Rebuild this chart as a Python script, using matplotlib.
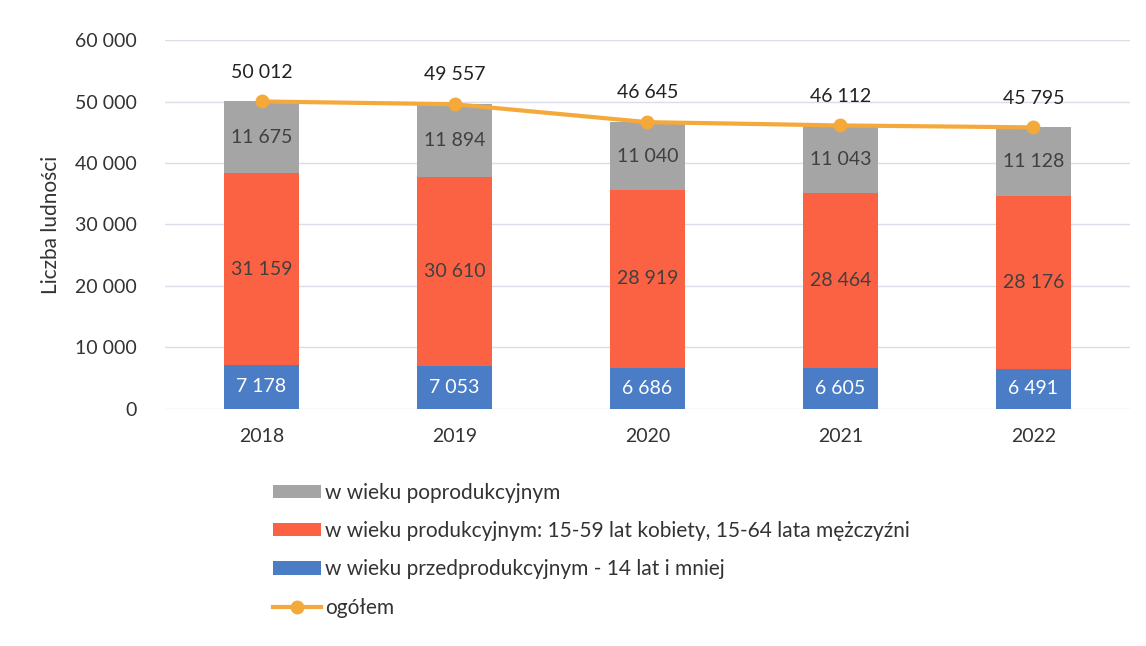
import numpy as np
import matplotlib.pyplot as plt
from matplotlib.ticker import FuncFormatter

plt.rcParams['font.family'] = ['Lato', 'DejaVu Sans']

years = ['2018', '2019', '2020', '2021', '2022']
przed = [7178, 7053, 6686, 6605, 6491]
prod = [31159, 30610, 28919, 28464, 28176]
popr = [11675, 11894, 11040, 11043, 11128]
total = [50012, 49557, 46645, 46112, 45795]

lab_popr = 'w wieku poprodukcyjnym'
lab_prod = 'w wieku produkcyjnym: 15-59 lat kobiety, 15-64 lata mężczyźni'
lab_przed = 'w wieku przedprodukcyjnym - 14 lat i mniej'
lab_total = 'ogółem'

c_grey = '#a5a5a5'
c_red = '#fb6243'
c_blue = '#4a7dc6'
c_line = '#f5a93b'


def fmt(v):
    return f'{int(v):,}'.replace(',', ' ')


fig = plt.figure(figsize=(11.46, 6.46), dpi=100)
ax = fig.add_axes([0.144, 0.367, 0.842, 0.571])

x = np.arange(len(years))
w = 0.39
b1 = ax.bar(x, przed, w, color=c_blue, label=lab_przed, zorder=2)
b2 = ax.bar(x, prod, w, bottom=przed, color=c_red, label=lab_prod, zorder=2)
bottom3 = np.array(przed) + np.array(prod)
b3 = ax.bar(x, popr, w, bottom=bottom3, color=c_grey, label=lab_popr, zorder=2)
ln, = ax.plot(x, total, color=c_line, lw=3, marker='o', ms=9, label=lab_total, zorder=3)

for i in range(len(years)):
    ax.text(x[i], przed[i] / 2, fmt(przed[i]), ha='center', va='center',
            color='white', fontsize=14, zorder=4)
    ax.text(x[i], przed[i] + prod[i] / 2, fmt(prod[i]), ha='center', va='center',
            color='#404040', fontsize=14, zorder=4)
    ax.text(x[i], bottom3[i] + popr[i] / 2, fmt(popr[i]), ha='center', va='center',
            color='#404040', fontsize=14, zorder=4)
    ax.annotate(fmt(total[i]), (x[i], total[i]), xytext=(0, 15), textcoords='offset points',
                ha='center', va='bottom', fontsize=14, color='#222222', zorder=4)

ax.set_xlim(-0.5, len(years) - 0.5)
ax.set_ylim(0, 60000)
ax.set_yticks(np.arange(0, 60001, 10000))
ax.yaxis.set_major_formatter(FuncFormatter(lambda v, p: fmt(v)))
ax.set_xticks(x)
ax.set_xticklabels(years)
ax.tick_params(axis='both', length=0, labelsize=14, colors='#333333')
ax.tick_params(axis='x', pad=14)
ax.tick_params(axis='y', pad=20)
ax.grid(axis='y', color='#dcdce8', lw=1, zorder=0)
for s in ax.spines.values():
    s.set_visible(False)
ax.set_ylabel('Liczba ludności', fontsize=15, color='#333333', labelpad=10)

leg = fig.legend([b3, b2, b1, ln], [lab_popr, lab_prod, lab_przed, lab_total],
                 loc='upper left', bbox_to_anchor=(0.222, 0.282), frameon=False,
                 fontsize=15, labelspacing=0.88, handlelength=2.3, handleheight=0.6,
                 handletextpad=0.2, labelcolor='#333333')

fig.savefig('out.png', dpi=100)
